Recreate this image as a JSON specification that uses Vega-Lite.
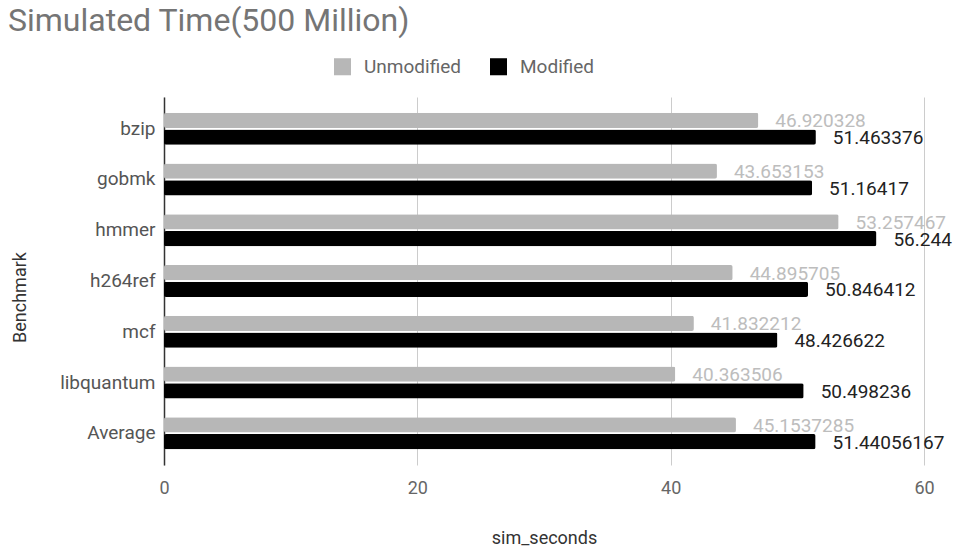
{
  "$schema": "https://vega.github.io/schema/vega-lite/v6.json",
  "width": 760,
  "height": 368,
  "autosize": {"type": "none"},
  "padding": {"left": 164, "top": 97, "right": 29, "bottom": 85},
  "title": {
    "text": "Simulated Time(500 Million)",
    "anchor": "start",
    "frame": "group",
    "dx": -156,
    "fontSize": 32,
    "font": "Roboto",
    "fontWeight": "normal",
    "color": "#757575",
    "offset": 19
  },
  "config": {
    "font": "Roboto",
    "view": {"stroke": null},
    "axis": {"labelFont": "Roboto", "titleFont": "Roboto"}
  },
  "data": {
    "values": [
      {"Benchmark": "bzip", "series": "Unmodified", "sim_seconds": 46.920328, "label": "46.920328"},
      {"Benchmark": "bzip", "series": "Modified", "sim_seconds": 51.463376, "label": "51.463376"},
      {"Benchmark": "gobmk", "series": "Unmodified", "sim_seconds": 43.653153, "label": "43.653153"},
      {"Benchmark": "gobmk", "series": "Modified", "sim_seconds": 51.16417, "label": "51.16417"},
      {"Benchmark": "hmmer", "series": "Unmodified", "sim_seconds": 53.257467, "label": "53.257467"},
      {"Benchmark": "hmmer", "series": "Modified", "sim_seconds": 56.244, "label": "56.244"},
      {"Benchmark": "h264ref", "series": "Unmodified", "sim_seconds": 44.895705, "label": "44.895705"},
      {"Benchmark": "h264ref", "series": "Modified", "sim_seconds": 50.846412, "label": "50.846412"},
      {"Benchmark": "mcf", "series": "Unmodified", "sim_seconds": 41.832212, "label": "41.832212"},
      {"Benchmark": "mcf", "series": "Modified", "sim_seconds": 48.426622, "label": "48.426622"},
      {"Benchmark": "libquantum", "series": "Unmodified", "sim_seconds": 40.363506, "label": "40.363506"},
      {"Benchmark": "libquantum", "series": "Modified", "sim_seconds": 50.498236, "label": "50.498236"},
      {"Benchmark": "Average", "series": "Unmodified", "sim_seconds": 45.1537285, "label": "45.1537285"},
      {"Benchmark": "Average", "series": "Modified", "sim_seconds": 51.44056167, "label": "51.44056167"}
    ]
  },
  "encoding": {
    "y": {
      "field": "Benchmark",
      "type": "nominal",
      "sort": null,
      "scale": {"paddingInner": 0.37, "paddingOuter": 0.31},
      "axis": {
        "title": "Benchmark",
        "titleFontSize": 18,
        "titleFontWeight": "normal",
        "titleColor": "#333333",
        "titlePadding": 30,
        "titleY": 200,
        "labelFontSize": 19,
        "labelColor": "#555555",
        "labelPadding": 9,
        "ticks": false,
        "domainColor": "#333333",
        "domainWidth": 1.5,
        "grid": false
      }
    },
    "yOffset": {
      "field": "series",
      "type": "nominal",
      "sort": ["Unmodified", "Modified"],
      "scale": {"paddingInner": 0.1}
    },
    "x": {
      "field": "sim_seconds",
      "type": "quantitative",
      "scale": {"domain": [0, 60], "nice": false},
      "axis": {
        "title": "sim_seconds",
        "titleFontSize": 18,
        "titleFontWeight": "normal",
        "titleColor": "#333333",
        "titlePadding": 32,
        "labelFontSize": 18,
        "labelColor": "#666666",
        "labelPadding": 14,
        "labelFlush": false,
        "values": [0, 20, 40, 60],
        "ticks": false,
        "domain": false,
        "grid": true,
        "gridColor": "#cccccc"
      }
    }
  },
  "layer": [
    {
      "mark": {"type": "bar", "cornerRadius": 2},
      "encoding": {
        "color": {
          "field": "series",
          "type": "nominal",
          "scale": {"domain": ["Unmodified", "Modified"], "range": ["#b7b7b7", "#000000"]},
          "legend": {
            "title": null,
            "orient": "none",
            "direction": "horizontal",
            "legendX": 169,
            "legendY": -40,
            "symbolType": "square",
            "symbolSize": 290,
            "symbolStrokeWidth": 0,
            "labelFontSize": 19,
            "labelColor": "#666666",
            "labelOffset": 12,
            "columnPadding": 28
          }
        }
      }
    },
    {
      "mark": {"type": "text", "align": "left", "baseline": "middle", "dx": 17, "dy": 1, "fontSize": 19},
      "encoding": {
        "text": {"field": "label", "type": "nominal"},
        "color": {
          "condition": {"test": "datum.series === 'Unmodified'", "value": "#bdbdbd"},
          "value": "#222222"
        }
      }
    }
  ]
}
